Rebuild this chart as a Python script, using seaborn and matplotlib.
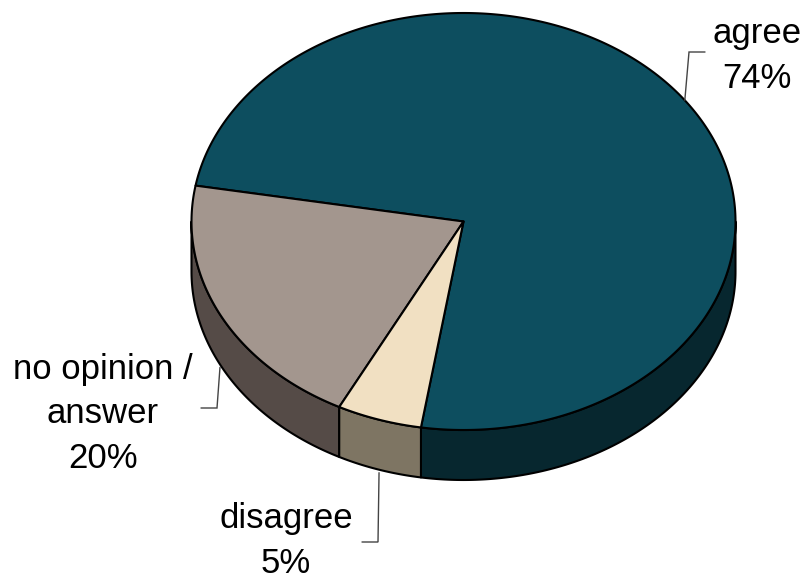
import numpy as np
import matplotlib
matplotlib.use("Agg")
import matplotlib.pyplot as plt
from matplotlib.patches import Polygon
import seaborn as sns

# Survey answers (percent)
categories = ["agree", "no opinion /\nanswer", "disagree"]
values = [74, 20, 5]

top_colors = ["#0D4E5F", "#A3968E", "#F1E0C2"]
side_colors = ["#07272F", "#554B47", "#7E7563"]

sns.set_theme(style="white")
plt.rcParams["font.family"] = ["Liberation Sans", "DejaVu Sans"]

W, H, DPI = 806, 580, 100
fig = plt.figure(figsize=(W / DPI, H / DPI), dpi=DPI)
ax = fig.add_axes([0, 0, 1, 1])
ax.set_xlim(0, W)
ax.set_ylim(H, 0)
ax.axis("off")

# 3-D pie geometry (pixel space)
cx, cy = 463.5, 221.5
rx, ry = 272.0, 208.5
depth = 50.0
start_angle = 261.0


def pt(t, dy=0.0):
    r = np.deg2rad(t)
    return cx + rx * np.cos(r), cy - ry * np.sin(r) + dy


def arc(a, b, dy=0.0, n=None):
    n = n or max(int(abs(b - a) * 2), 2)
    ts = np.linspace(a, b, n)
    return [pt(t, dy) for t in ts]


total = sum(values)
spans = []
t = start_angle
for v in values:
    sweep = 360.0 * v / total
    spans.append((t, t + sweep))
    t += sweep

# side walls (front half only)
for (t0, t1), sc in zip(spans, side_colors):
    for k in (-1, 0, 1, 2):
        a = max(t0, 180 + 360 * k)
        b = min(t1, 360 + 360 * k)
        if b > a:
            poly = arc(a, b) + arc(b, a, depth)
            ax.add_patch(Polygon(poly, closed=True, facecolor=sc,
                                 edgecolor="black", linewidth=1.5,
                                 joinstyle="round"))

# top faces
for (t0, t1), tc in zip(spans, top_colors):
    poly = [(cx, cy)] + arc(t0, t1)
    ax.add_patch(Polygon(poly, closed=True, facecolor=tc,
                         edgecolor="black", linewidth=1.5,
                         joinstyle="round"))

# labels with leader lines: baseline of last text line, elbow, line end x
label_layout = [
    dict(text=(757, 88), elbow=(689, 52), end=705),
    dict(text=(103, 468), elbow=(217, 408), end=201),
    dict(text=(286, 573), elbow=(378, 542), end=362),
]

for (t0, t1), name, v, lay in zip(spans, categories, values, label_layout):
    mid = (t0 + t1) / 2.0
    front = np.sin(np.deg2rad(mid)) < 0
    sx, sy = pt(mid, depth + 3 if front else 0)
    ex, ey = lay["elbow"]
    ax.plot([sx, ex, lay["end"]], [sy, ey, ey], color="#444444",
            linewidth=1.0, solid_joinstyle="miter")
    ax.text(lay["text"][0], lay["text"][1], f"{name}\n{v}%",
            ha="center", va="baseline", multialignment="center",
            fontsize=25, color="black", linespacing=1.45)

fig.savefig("out.png", dpi=DPI)
